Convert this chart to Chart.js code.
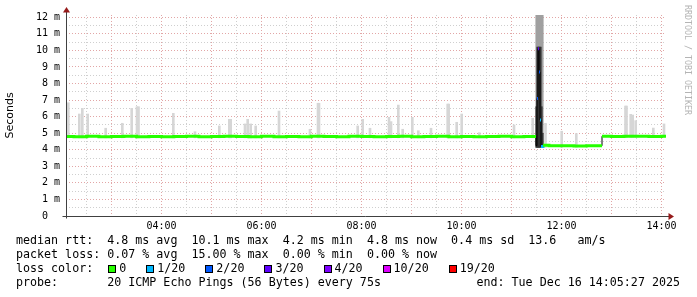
<!DOCTYPE html>
<html>
<head>
<meta charset="utf-8">
<script src="https://cdn.jsdelivr.net/npm/chart.js"></script>
<style>
  body { margin: 0; background: #fff; }
  #wrap { position: relative; width: 697px; height: 297px; overflow: hidden; font-family: "DejaVu Sans Mono", monospace; }
  #chart { position: absolute; left: 0; top: 0; }
  .legend { position: absolute; left: 16px; font-size: 11.67px; line-height: 14px; white-space: pre; color: #000; }
  .sw { display: inline-block; width: 6px; height: 6px; border: 1px solid #000; margin: 0 3px 0 1px; vertical-align: -1px; }
  .item { margin-right: 19px; }
  #end { position: absolute; right: 17px; top: 275px; font-size: 11.67px; line-height: 14px; white-space: pre; }
  #credit { position: absolute; left: 683px; top: 5px; writing-mode: vertical-rl; font-size: 8.3px; color: #b4b4b4; white-space: pre; }
</style>
</head>
<body>
<div id="wrap">
  <canvas id="chart" width="697" height="235"></canvas>
  <div id="credit">RRDTOOL / TOBI OETIKER</div>
  <div class="legend" style="top:233px">median rtt:  4.8 ms avg  10.1 ms max  4.2 ms min  4.8 ms now  0.4 ms sd  13.6   am/s</div>
  <div class="legend" style="top:247px">packet loss: 0.07 % avg  15.00 % max  0.00 % min  0.00 % now</div>
  <div class="legend" id="losscolor" style="top:261px">loss color:  </div>
  <div class="legend" style="top:275px">probe:       20 ICMP Echo Pings (56 Bytes) every 75s</div>
  <div id="end">end: Tue Dec 16 14:05:27 2025</div>
</div>
<script>
// median rtt samples: hour of day, ms, lost pings out of 20
const medTime  = [2.091, 2.25, 2.5, 2.75, 3.0, 3.25, 3.5, 3.75, 4.0, 4.25, 4.5, 4.75, 5.0, 5.25, 5.5, 5.75,
                  6.0, 6.25, 6.5, 6.75, 7.0, 7.25, 7.5, 7.75, 8.0, 8.25, 8.5, 8.75, 9.0, 9.25, 9.5, 9.75,
                  10.0, 10.25, 10.5, 10.75, 11.0, 11.25, 11.491, 11.511, 11.531, 11.551, 11.571, 11.591, 11.631,
                  11.75, 12.0, 12.25, 12.5, 12.811, 13.0, 13.25, 13.5, 13.75, 14.0, 14.091];
const medValue = [4.80, 4.78, 4.81, 4.79, 4.80, 4.82, 4.79, 4.80, 4.78, 4.80, 4.81, 4.79, 4.80, 4.82, 4.80, 4.79,
                  4.81, 4.78, 4.80, 4.79, 4.82, 4.80, 4.79, 4.81, 4.80, 4.78, 4.80, 4.82, 4.79, 4.80, 4.81, 4.79,
                  4.80, 4.78, 4.80, 4.81, 4.79, 4.80, 4.25, 7.1, 10.1, 8.7, 5.8, 4.2, 4.27,
                  4.24, 4.25, 4.23, 4.24, 4.82, 4.80, 4.82, 4.81, 4.80, 4.82, 4.82];
const medLoss  = [0, 0, 0, 0, 0, 0, 0, 0, 0, 0, 0, 0, 0, 0, 0, 0,
                  0, 0, 0, 0, 0, 0, 0, 0, 0, 0, 0, 0, 0, 0, 0, 0,
                  0, 0, 0, 0, 0, 0, 0, 2, 3, 2, 1, 1, 0,
                  0, 0, 0, 0, 0, 0, 0, 0, 0, 0, 0];

// smoke: spread of the single pings above the median
const smokeTime = [2.137, 2.357, 2.417, 2.525, 2.885, 3.217, 3.405, 3.511, 3.541, 4.237, 4.671, 5.157,
                   5.357, 5.385, 5.671, 5.725, 5.785, 5.885, 6.351, 6.971, 7.131, 7.151, 7.925, 8.025,
                   8.171, 8.551, 8.591, 8.737, 8.825, 9.017, 9.137, 9.391, 9.725, 9.745, 9.905, 10.005,
                   10.357, 11.051, 11.425, 11.681, 12.005, 12.297, 13.281, 13.301, 13.385, 13.425, 13.485,
                   13.837, 14.051];
const smokeLow  = [4.72, 4.72, 4.72, 4.72, 4.72, 4.72, 4.72, 4.72, 4.72, 4.72, 4.72, 4.72,
                   4.72, 4.72, 4.72, 4.72, 4.72, 4.72, 4.72, 4.72, 4.72, 4.72, 4.72, 4.72,
                   4.72, 4.72, 4.72, 4.72, 4.72, 4.72, 4.72, 4.72, 4.72, 4.72, 4.72, 4.72,
                   4.72, 4.72, 4.72, 4.15, 4.15, 4.15, 4.75, 4.75, 4.75, 4.75, 4.75,
                   4.75, 4.75];
const smokeHigh = [6.84, 6.16, 6.50, 6.16, 5.30, 5.60, 6.50, 6.60, 6.60, 6.20, 5.09, 5.44,
                   5.84, 5.84, 5.56, 5.84, 5.56, 5.44, 6.34, 5.24, 6.81, 6.81, 5.44, 5.84,
                   5.30, 5.96, 5.70, 6.70, 5.24, 5.96, 5.15, 5.30, 6.76, 6.76, 5.66, 6.16,
                   5.03, 5.50, 5.90, 5.60, 5.12, 4.98, 6.64, 6.64, 6.14, 6.10, 5.76,
                   5.31, 5.56];

// the burst around 11:30, outer smoke and dense core
const burstTime = [11.501, 11.521, 11.541, 11.561, 11.581, 11.601, 11.621];
const burstLow  = [4.15, 4.15, 4.15, 4.15, 4.15, 4.20, 4.20];
const burstHigh = [12.5, 12.5, 12.5, 12.5, 12.5, 12.5, 12.5];
const coreHigh  = [6.6, 10.2, 10.2, 10.2, 10.2, 6.6, 5.0];

// axes
const xStart = 2.091, xEnd = 14.091;   // 02:05:27 .. 14:05:27
const yMax = 12.14;
const xTicks = [2.5, 3, 3.5, 4, 4.5, 5, 5.5, 6, 6.5, 7, 7.5, 8, 8.5, 9, 9.5, 10, 10.5, 11, 11.5, 12, 12.5, 13, 13.5, 14];
const xLabelHours = [4, 6, 8, 10, 12, 14];
const yTicks = [0, 0.5, 1, 1.5, 2, 2.5, 3, 3.5, 4, 4.5, 5, 5.5, 6, 6.5, 7, 7.5, 8, 8.5, 9, 9.5, 10, 10.5, 11, 11.5, 12];

// loss colour legend
const lossSteps  = [0, 1, 2, 3, 4, 10, 19];
const lossLabels = ['0', '1/20', '2/20', '3/20', '4/20', '10/20', '19/20'];
const lossColors = ['#26ff00', '#00b8ff', '#0059ff', '#5e00ff', '#7e00ff', '#dd00ff', '#ff0000'];

const lossColor = (n) => {
  let c = lossColors[0];
  lossSteps.forEach((s, k) => { if (n >= s) c = lossColors[k]; });
  return c;
};

const lc = document.getElementById('losscolor');
lossLabels.forEach((l, k) => {
  const it = document.createElement('span');
  it.className = 'item';
  const sw = document.createElement('span');
  sw.className = 'sw';
  sw.style.background = lossColors[k];
  it.appendChild(sw);
  it.appendChild(document.createTextNode(l));
  lc.appendChild(it);
});

// coloured median: one flat piece per sample, broken at big jumps
const colored = [];
for (let i = 0; i < medTime.length - 1; i++) {
  if (i > 0 && Math.abs(medValue[i] - medValue[i - 1]) > 0.3) colored.push({ x: medTime[i], y: null });
  colored.push({ x: medTime[i], y: medValue[i], loss: medLoss[i] });
  colored.push({ x: medTime[i + 1], y: medValue[i], loss: medLoss[i] });
}

const rrdAxes = {
  id: 'rrdAxes',
  afterDatasetsDraw(chart) {
    const { ctx, chartArea: a } = chart;
    const x0 = a.left + 0.5, y0 = Math.round(chart.scales.y.getPixelForValue(0)) + 0.5;
    ctx.save();
    ctx.strokeStyle = '#404040';
    ctx.lineWidth = 1;
    ctx.beginPath();
    ctx.moveTo(x0, y0 + 2); ctx.lineTo(x0, 12);
    ctx.moveTo(x0 - 4, y0); ctx.lineTo(669, y0);
    ctx.stroke();
    ctx.fillStyle = '#961a1a';
    ctx.beginPath();
    ctx.moveTo(x0, 7); ctx.lineTo(x0 - 3.5, 12.5); ctx.lineTo(x0 + 3.5, 12.5); ctx.closePath();
    ctx.fill();
    ctx.beginPath();
    ctx.moveTo(674, y0); ctx.lineTo(668.5, y0 - 3.5); ctx.lineTo(668.5, y0 + 3.5); ctx.closePath();
    ctx.fill();
    ctx.restore();
  }
};

Chart.defaults.font.family = 'DejaVu Sans Mono';
Chart.defaults.color = '#000';

new Chart(document.getElementById('chart'), {
  type: 'bar',
  data: {
    datasets: [
      {
        type: 'line',
        data: colored,
        borderWidth: 3,
        pointRadius: 0,
        spanGaps: false,
        borderCapStyle: 'butt',
        segment: { borderColor: (c) => lossColor(colored[c.p0DataIndex].loss) },
        borderColor: lossColors[0],
        order: 0
      },
      {
        type: 'line',
        data: medTime.map((t, i) => ({ x: t, y: medValue[i] })),
        stepped: true,
        borderColor: '#000',
        borderWidth: 1,
        pointRadius: 0,
        order: 1
      },
      {
        data: burstTime.map((t, i) => ({ x: t, y: [burstLow[i], coreHigh[i]] })),
        backgroundColor: '#333333',
        barThickness: 1.5,
        grouped: false,
        order: 2
      },
      {
        data: burstTime.map((t, i) => ({ x: t, y: [burstLow[i], burstHigh[i]] })),
        backgroundColor: '#a0a0a0',
        barThickness: 1.5,
        grouped: false,
        order: 3
      },
      {
        data: smokeTime.map((t, i) => ({ x: t, y: [smokeLow[i], smokeHigh[i]] })),
        backgroundColor: '#d6d6d6',
        barThickness: 2,
        grouped: false,
        order: 4
      }
    ]
  },
  options: {
    responsive: false,
    animation: false,
    events: [],
    layout: { padding: { left: 0, top: 15, right: 31, bottom: 0 } },
    plugins: { legend: { display: false }, tooltip: { enabled: false } },
    scales: {
      x: {
        type: 'linear',
        min: xStart,
        max: xEnd,
        offset: false,
        afterBuildTicks: (s) => { s.ticks = xTicks.map((v) => ({ value: v })); },
        afterFit: (s) => { s.height = 19; },
        grid: {
          offset: false,
          drawTicks: false,
          color: (c) => Number.isInteger(c.tick.value) ? '#e2a6a6' : '#cfcfcf'
        },
        border: { display: false, dash: [1, 2] },
        ticks: {
          autoSkip: false,
          maxRotation: 0,
          padding: 4,
          font: { size: 10 },
          callback: (v) => xLabelHours.includes(v) ? String(v).padStart(2, '0') + ':00' : ''
        }
      },
      y: {
        min: 0,
        max: yMax,
        afterBuildTicks: (s) => { s.ticks = yTicks.map((v) => ({ value: v })); },
        afterFit: (s) => { s.width = 66; },
        grid: {
          drawTicks: false,
          color: (c) => Number.isInteger(c.tick.value) ? '#e2a6a6' : '#cfcfcf'
        },
        border: { display: false, dash: [1, 2] },
        ticks: {
          autoSkip: false,
          padding: 6,
          font: { size: 10 },
          callback: (v) => v === 0 ? '0  ' : (Number.isInteger(v) ? v + ' m' : '')
        },
        title: {
          display: true,
          text: 'Seconds',
          padding: { top: 4, bottom: 0 },
          font: { family: 'DejaVu Sans', size: 11 }
        }
      }
    }
  },
  plugins: [rrdAxes]
});
</script>
</body>
</html>
